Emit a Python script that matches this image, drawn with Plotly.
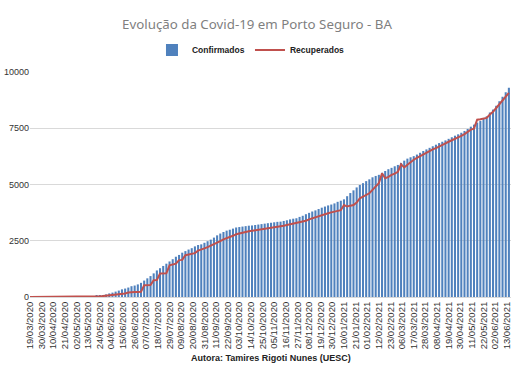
import datetime as dt
import plotly.graph_objects as go

start = dt.date(2020, 3, 19)
step_days = 3

confirmados = [
    1, 1, 2, 3, 3, 4, 5, 5, 6, 6, 7, 8, 10, 12, 14, 16, 18, 21, 24, 28,
    38, 45, 55, 80, 115, 160, 195, 240, 285, 340, 375, 420, 480, 510, 560, 630, 730, 830, 930, 1050,
    1180, 1280, 1380, 1480, 1580, 1680, 1790, 1870, 1970, 2040, 2110, 2170, 2250, 2310, 2340, 2410, 2480, 2550, 2640, 2740,
    2820, 2890, 2950, 2990, 3040, 3090, 3110, 3130, 3150, 3170, 3180, 3200, 3220, 3240, 3260, 3280, 3300, 3320, 3340, 3350,
    3380, 3410, 3450, 3480, 3500, 3560, 3610, 3680, 3740, 3800, 3850, 3910, 3970, 4020, 4070, 4110, 4160, 4230, 4280, 4340,
    4480, 4620, 4740, 4870, 4980, 5060, 5150, 5230, 5320, 5380, 5430, 5520, 5600, 5680, 5740, 5810, 5870, 5960, 6060, 6150,
    6210, 6260, 6330, 6410, 6490, 6560, 6630, 6700, 6770, 6840, 6900, 6960, 7030, 7100, 7170, 7230, 7300, 7380, 7470, 7570,
    7660, 7750, 7830, 7940, 8030, 8200, 8330, 8500, 8700, 8900, 9100, 9300,
]

recuperados = [
    0, 0, 0, 0, 0, 1, 1, 1, 2, 2, 3, 3, 4, 5, 6, 7, 8, 10, 12, 14,
    18, 22, 28, 40, 55, 60, 70, 85, 100, 130, 160, 200, 220, 220, 220, 230, 520, 520, 530, 745,
    750, 1040, 1040, 1050, 1410, 1450, 1480, 1640, 1650, 1860, 1900, 1935, 1950, 2060, 2100, 2160, 2220, 2280, 2330, 2400,
    2480, 2560, 2610, 2650, 2720, 2790, 2830, 2870, 2900, 2920, 2940, 2960, 2980, 3000, 3030, 3060, 3080, 3100, 3120, 3130,
    3170, 3200, 3230, 3260, 3280, 3310, 3350, 3390, 3450, 3500, 3540, 3580, 3620, 3680, 3720, 3760, 3800, 3830, 3860, 4090,
    4020, 4060, 4090, 4200, 4390, 4460, 4540, 4610, 4760, 4900, 5060, 5500, 5280, 5340, 5430, 5480, 5560, 5900, 5760, 5880,
    6000, 6100, 6180, 6260, 6340, 6420, 6490, 6560, 6620, 6700, 6770, 6830, 6900, 6960, 7040, 7100, 7160, 7240, 7330, 7440,
    7480, 7880, 7900, 7920, 7960, 8110, 8230, 8400, 8560, 8750, 8900, 9070,
]

datas = [start + dt.timedelta(days=step_days * i) for i in range(len(confirmados))]

title_text = "Evolução da Covid-19 em Porto Seguro - BA"
caption_text = "Autora: Tamires Rigoti Nunes (UESC)"
y_ticks = [0, 2500, 5000, 7500, 10000]

fig = go.Figure()
fig.add_trace(go.Bar(
    x=datas, y=confirmados, name="Confirmados",
    marker=dict(color="#4f81bd", line=dict(width=0)),
))
fig.add_trace(go.Scatter(
    x=datas, y=recuperados, name="Recuperados", mode="lines",
    line=dict(color="#c0504d", width=2),
))

fig.update_layout(
    width=514, height=386,
    margin=dict(l=30, r=3, t=72, b=89),
    paper_bgcolor="white", plot_bgcolor="white",
    font=dict(family="Liberation Sans", size=9, color="#404040"),
    bargap=0.35,
    title=dict(text=title_text, x=0.5, xanchor="center", y=0.938, yanchor="middle",
               font=dict(family="Noto Sans", size=13.3, color="#7f7f7f")),
    legend=dict(orientation="h", x=0.2536, xanchor="left", y=1.098, yanchor="middle",
                font=dict(family="Liberation Sans", size=8.5, color="#222222", weight="bold"),
                itemwidth=30, entrywidth=53, entrywidthmode="pixels"),
    showlegend=True,
)
fig.update_xaxes(
    type="date", automargin=False,
    range=[str(start - dt.timedelta(hours=14)), "2021-06-17"],
    tick0=str(start), dtick=11 * 86400000, tickformat="%d/%m/%Y",
    tickangle=-90, showgrid=False, showline=True, linecolor="#d9d9d9",
    ticks="", tickfont=dict(family="Liberation Sans", size=9.5, color="#333333"),
)
fig.update_yaxes(
    automargin=False,
    range=[0, 10000], tickvals=y_ticks, ticktext=[str(v) for v in y_ticks],
    showgrid=True, gridcolor="#d9d9d9", zeroline=False,
    tickfont=dict(family="Liberation Sans", size=9, color="#333333"),
)
fig.add_annotation(
    text=caption_text, xref="paper", yref="paper", x=0.5, y=-0.272,
    xanchor="center", yanchor="middle", showarrow=False,
    font=dict(family="Liberation Sans", size=9, color="#222222", weight="bold"),
)

fig.write_html(
    "out.html",
    config={"displayModeBar": False},
    post_script="document.body.style.margin='0px';document.body.style.padding='0px';",
)
